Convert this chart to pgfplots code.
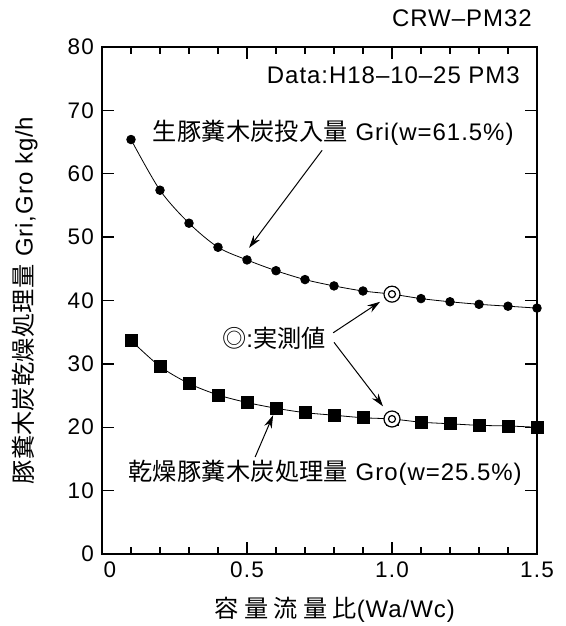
\documentclass[border=0pt]{standalone}
\usepackage{fontspec}
\setmainfont{Liberation Sans}[Scale=2.4, LetterSpace=4]
\newfontfamily\tickfont{Liberation Sans}[Scale=2.25, LetterSpace=5]
\newfontfamily\jp{Noto Sans CJK JP}[Scale=2.42, LetterSpace=1]
\newfontfamily\jpwide{Noto Sans CJK JP}[Scale=2.42, LetterSpace=22]
\usepackage{pgfplots}
\pgfplotsset{compat=1.18}
\usetikzlibrary{arrows.meta}

\begin{document}
\begin{tikzpicture}[>={Stealth[length=13pt,width=8pt]}]
\useasboundingbox (-102pt,-72pt) rectangle (463pt,554pt);
\begin{axis}[
    width=435pt, height=507pt, scale only axis,
    xmin=0, xmax=1.5, ymin=0, ymax=80,
    xtick={0,0.5,1,1.5}, xticklabels={\hspace*{16pt}0,0.5,1.0,1.5},
    minor x tick num=4,
    ytick={0,10,...,80},
    tick align=inside,
    major tick length=12pt, minor tick length=7pt,
    axis line style={line width=1.6pt},
    every tick/.style={black, line width=1.3pt},
    /pgf/number format/assume math mode=true,
    tick label style={font=\tickfont},
    clip=false,
    xlabel={{\jpwide 容量流量比}(Wa/Wc)},
    ylabel={{\jp 豚糞木炭乾燥処理量} Gri,Gro kg/h},
    xlabel style={at={(axis description cs:0.535,0)}, anchor=center, yshift=-56pt},
    ylabel style={at={(axis description cs:-0.177,0.5)}, anchor=center},
]
% Gri
\addplot[black, line width=0.8pt, smooth, mark=*, mark size=4.3pt] coordinates {
(0.1,65.4)(0.2,57.4)(0.3,52.2)(0.4,48.4)(0.5,46.4)(0.6,44.7)(0.7,43.3)(0.8,42.3)
(0.9,41.5)(1.0,41.0)(1.1,40.3)(1.2,39.8)(1.3,39.4)(1.4,39.1)(1.5,38.8)};
% Gro
\addplot[black, line width=0.8pt, smooth, mark=square*, mark size=6pt] coordinates {
(0.1,33.7)(0.2,29.6)(0.3,26.9)(0.4,25.1)(0.5,23.9)(0.6,23.0)(0.7,22.3)(0.8,21.9)
(0.9,21.5)(1.0,21.3)(1.1,20.8)(1.2,20.55)(1.3,20.3)(1.4,20.2)(1.5,20.0)};
% measured values
\addplot[only marks, mark=*, mark size=8pt, mark options={draw=black, fill=white, line width=1.2pt}] coordinates {(1.0,41.0)(1.0,21.3)};
\addplot[only marks, mark=*, mark size=3.5pt, mark options={draw=black, fill=white, line width=1.2pt}] coordinates {(1.0,41.0)(1.0,21.3)};

\node[anchor=east] at (axis cs:1.51,84.5) {CRW–PM32};
\node[anchor=east] at (axis cs:1.469,75.6) {Data:H18–10–25 PM3};
\node at (axis cs:0.797,66.4) {{\jp 生豚糞木炭投入量} Gri(w=61.5\%)};
\node at (axis cs:0.769,12.8) {{\jp 乾燥豚糞木炭処理量} Gro(w=25.5\%)};
\node[anchor=west, inner sep=0pt] at (axis cs:0.414,34.1) {{\jp ◎}:{\jp 実測値}};

\draw[->, line width=1pt] (axis cs:0.759,63.7) -- (axis cs:0.507,48.3);
\draw[->, line width=1pt] (axis cs:0.797,34.9) -- (axis cs:0.959,39.8);
\draw[->, line width=1pt] (axis cs:0.80,33.4) -- (axis cs:0.969,23.3);
\draw[->, line width=1pt] (axis cs:0.528,15.3) -- (axis cs:0.59,21.9);
\end{axis}
\end{tikzpicture}
\end{document}
